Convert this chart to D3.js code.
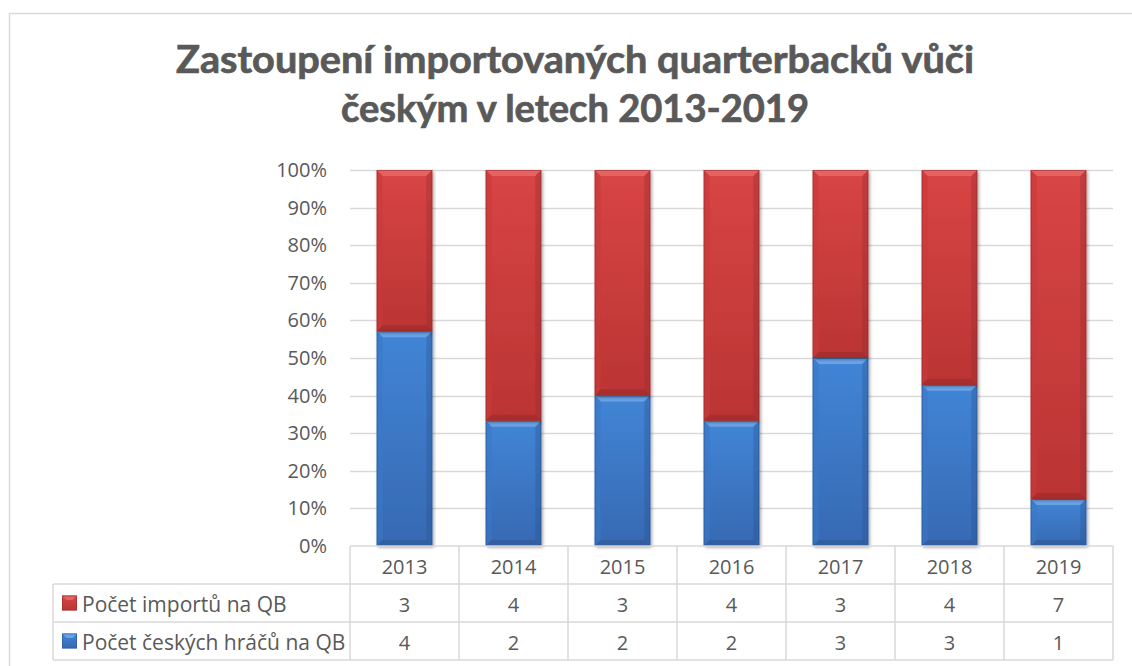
<!DOCTYPE html>
<html><head><meta charset="utf-8">
<script src="https://cdn.jsdelivr.net/npm/d3@7"></script>
<style>html,body{margin:0;padding:0;background:#fff;} svg{display:block;}</style>
</head><body>
<svg id="chart" width="1132" height="666"></svg>
<script>
const years = ["2013","2014","2015","2016","2017","2018","2019"];
const imports = [3,4,3,4,3,4,7];
const czech = [4,2,2,2,3,3,1];
const seriesNames = ["Počet importů na QB","Počet českých hráčů na QB"];
const yTicks = [0,0.1,0.2,0.3,0.4,0.5,0.6,0.7,0.8,0.9,1];
const titleLines = ["Zastoupení importovaných quarterbacků vůči","českým v letech 2013-2019"];

(function(){
const svg = d3.select("#chart");
const font = "'Open Sans', 'DejaVu Sans', sans-serif";
const txt = "#595959", grid = "#d9d9d9";

// chart border
svg.append("rect").attr("x",9.5).attr("y",13.5).attr("width",1200).attr("height",700)
  .attr("fill","none").attr("stroke",grid).attr("stroke-width",1.5);

// title
const tl = [{t:titleLines[0], y:73, w:798},{t:titleLines[1], y:122, w:468}];
tl.forEach(l=>{
  svg.append("text").attr("x",575).attr("y",l.y).attr("text-anchor","middle")
    .attr("font-family","Lato, 'Open Sans', sans-serif").attr("font-weight","bold")
    .attr("font-size",38).attr("fill",txt).attr("stroke",txt).attr("stroke-width",0.7)
    .attr("textLength",l.w).attr("lengthAdjust","spacingAndGlyphs").text(l.t);
});

const pLeft = 350, pRight = 1113, pTop = 170, pBottom = 546;
const x = d3.scaleBand().domain(years).range([pLeft,pRight]).paddingInner(0.49).paddingOuter(0.245);
const xCol = d3.scaleBand().domain(years).range([pLeft,pRight]);
const y = d3.scaleLinear().domain([0,1]).range([pBottom,pTop]);

// defs: gradients, shadow
const defs = svg.append("defs");
const colors = {
  red:{top:"#d84545", bot:"#bb3434", light:"#e46262", dark:"#962a2a", side:"#c83b3b"},
  blue:{top:"#4285d6", bot:"#3669b3", light:"#6aa2e6", dark:"#2a5290", side:"#3a78c6"}
};
Object.entries(colors).forEach(([k,c])=>{
  const g = defs.append("linearGradient").attr("id","g-"+k).attr("x1",0).attr("y1",0).attr("x2",0).attr("y2",1);
  g.append("stop").attr("offset","0%").attr("stop-color",c.top);
  g.append("stop").attr("offset","100%").attr("stop-color",c.bot);
});
const f = defs.append("filter").attr("id","sh").attr("x","-20%").attr("y","-20%").attr("width","140%").attr("height","140%");
f.append("feDropShadow").attr("dx",1.5).attr("dy",1.5).attr("stdDeviation",1.8).attr("flood-color","#000").attr("flood-opacity",0.35);

// gridlines
svg.append("g").selectAll("line").data(yTicks.filter(d=>d>0)).join("line")
  .attr("x1",pLeft).attr("x2",pRight).attr("y1",d=>Math.round(y(d))+0.5).attr("y2",d=>Math.round(y(d))+0.5)
  .attr("stroke",grid).attr("stroke-width",1.5);

// y axis labels via d3 axis
const yAxis = d3.axisLeft(y).tickValues(yTicks).tickFormat(d3.format(".0%")).tickSize(0).tickPadding(0);
const ga = svg.append("g").attr("transform","translate(327,0)").call(yAxis);
ga.select(".domain").remove();
ga.selectAll("text").attr("font-family",font).attr("font-size",20).attr("fill",txt);

// stacked data
const rows = years.map((yr,i)=>({year:yr, czech:czech[i], imports:imports[i]}));
const stack = d3.stack().keys(["czech","imports"]).offset(d3.stackOffsetExpand);
const stacked = stack(rows);
const keyColor = {czech:"blue", imports:"red"};

function bevelBar(g, x0, y0, w, h, c, id){
  const b = Math.min(6, h/2);
  const bg = g.append("g").attr("filter","url(#sh)");
  bg.append("rect").attr("x",x0).attr("y",y0).attr("width",w).attr("height",h).attr("fill","url(#g-"+id+")");
  bg.append("path").attr("d",`M${x0},${y0}L${x0+w},${y0}L${x0+w-b},${y0+b}L${x0+b},${y0+b}Z`).attr("fill",c.light);
  bg.append("path").attr("d",`M${x0},${y0}L${x0+b},${y0+b}L${x0+b},${y0+h-b}L${x0},${y0+h}Z`).attr("fill",c.side).attr("opacity",0.6);
  bg.append("path").attr("d",`M${x0+w},${y0}L${x0+w-b},${y0+b}L${x0+w-b},${y0+h-b}L${x0+w},${y0+h}Z`).attr("fill",c.dark).attr("opacity",0.35);
  bg.append("path").attr("d",`M${x0},${y0+h}L${x0+b},${y0+h-b}L${x0+w-b},${y0+h-b}L${x0+w},${y0+h}Z`).attr("fill",c.dark).attr("opacity",0.5);
  bg.append("rect").attr("x",x0+0.5).attr("y",y0+0.5).attr("width",w-1).attr("height",h-1)
    .attr("fill","none").attr("stroke",c.dark).attr("stroke-opacity",0.5).attr("stroke-width",1);
}

const barsG = svg.append("g");
stacked.forEach(s=>{
  const id = keyColor[s.key];
  s.forEach(d=>{
    const x0 = x(d.data.year), w = x.bandwidth();
    const y0 = y(d[1]), h = y(d[0]) - y(d[1]);
    bevelBar(barsG, x0, y0, w, h, colors[id], id);
  });
});

// data table
const rowTop = 546, rowH = 38;
const tg = svg.append("g");
const lineAttr = sel => sel.attr("stroke",grid).attr("stroke-width",1.5);
tg.append("line").call(lineAttr).attr("x1",pLeft).attr("x2",pRight).attr("y1",rowTop).attr("y2",rowTop);
[1,2,3].forEach(k=>{
  tg.append("line").call(lineAttr).attr("x1",53).attr("x2",pRight).attr("y1",rowTop+k*rowH).attr("y2",rowTop+k*rowH);
});
years.forEach(yr=>{
  tg.append("line").call(lineAttr).attr("x1",xCol(yr)).attr("x2",xCol(yr)).attr("y1",rowTop).attr("y2",rowTop+3*rowH);
});
tg.append("line").call(lineAttr).attr("x1",pRight).attr("x2",pRight).attr("y1",rowTop).attr("y2",rowTop+3*rowH);
tg.append("line").call(lineAttr).attr("x1",53).attr("x2",53).attr("y1",rowTop+rowH).attr("y2",rowTop+3*rowH);

const cellText = (xx,yy,t,anchor,fs)=>tg.append("text").attr("x",xx).attr("y",yy).attr("text-anchor",anchor||"middle")
  .attr("dominant-baseline","central").attr("font-family",font).attr("font-size",fs||20).attr("fill",txt).text(t);
years.forEach((yr,i)=>{
  const cx = xCol(yr)+xCol.bandwidth()/2;
  cellText(cx, rowTop+rowH/2+1, yr);
  cellText(cx, rowTop+rowH*1.5+1, imports[i]);
  cellText(cx, rowTop+rowH*2.5+1, czech[i]);
});
[["red",seriesNames[0]],["blue",seriesNames[1]]].forEach(([id,name],k)=>{
  const cy = rowTop+rowH*(1.5+k);
  const c = colors[id];
  const m = tg.append("g");
  m.append("rect").attr("x",62).attr("y",cy-7.5).attr("width",15).attr("height",15).attr("fill","url(#g-"+id+")");
  m.append("path").attr("d",`M62,${cy-7.5}L77,${cy-7.5}L72.5,${cy-3}L66.5,${cy-3}Z`).attr("fill",c.light);
  m.append("rect").attr("x",62.5).attr("y",cy-7).attr("width",14).attr("height",14).attr("fill","none").attr("stroke",c.dark).attr("stroke-opacity",0.5);
  cellText(82, cy+1, name, "start", 21);
});
})();
</script>
</body></html>
